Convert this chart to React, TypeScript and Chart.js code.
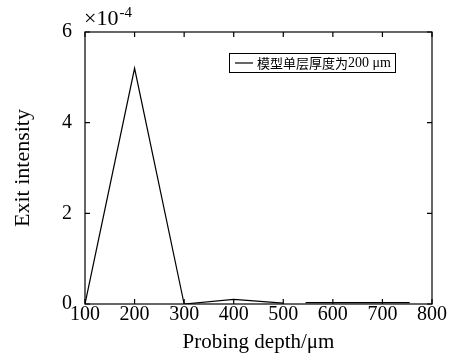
import React, { useEffect, useRef } from "react";
import { Chart, registerables } from "chart.js";

Chart.register(...registerables);

// Probing depth (μm) and exit intensity (×10^-4); null marks the gap in the curve
const depths = [100, 200, 300, 400, 500, 520, 545, 755];
const intensities = [0, 5.2, 0, 0.1, 0.02, null, 0.03, 0.03];
const seriesLabel = "模型单层厚度为200 μm";
const xTitle = "Probing depth/μm";
const yTitle = "Exit intensity";
const xTicks = [100, 200, 300, 400, 500, 600, 700, 800];
const yTicks = [0, 2, 4, 6];

const SERIF = "'Liberation Serif', 'Times New Roman', serif";

const framePlugin = {
  id: "frame",
  afterDraw(chart: any) {
    const { ctx, chartArea } = chart;
    const { left, right, top, bottom } = chartArea;
    const xs = chart.scales.x;
    const ys = chart.scales.y;
    ctx.save();
    ctx.strokeStyle = "#000";
    ctx.lineWidth = 1.2;
    ctx.strokeRect(left, top, right - left, bottom - top);
    const tl = 5;
    ctx.beginPath();
    xTicks.forEach((v) => {
      const px = xs.getPixelForValue(v);
      ctx.moveTo(px, bottom);
      ctx.lineTo(px, bottom - tl);
      ctx.moveTo(px, top);
      ctx.lineTo(px, top + tl);
    });
    yTicks.forEach((v) => {
      const py = ys.getPixelForValue(v);
      ctx.moveTo(left, py);
      ctx.lineTo(left + tl, py);
      ctx.moveTo(right, py);
      ctx.lineTo(right - tl, py);
    });
    ctx.stroke();

    // exponent label
    ctx.fillStyle = "#000";
    ctx.textBaseline = "alphabetic";
    ctx.textAlign = "left";
    ctx.font = `22px ${SERIF}`;
    ctx.fillText("×10", left - 1, top - 7);
    const w = ctx.measureText("×10").width;
    ctx.font = `15px ${SERIF}`;
    ctx.fillText("-4", left - 1 + w + 1, top - 15);

    // legend
    const lx = 229, ly = 53, lw = 166, lh = 19;
    ctx.fillStyle = "#fff";
    ctx.fillRect(lx, ly, lw, lh);
    ctx.lineWidth = 1;
    ctx.strokeRect(lx + 0.5, ly + 0.5, lw, lh);
    ctx.lineWidth = 1.2;
    ctx.beginPath();
    ctx.moveTo(lx + 6, ly + 10);
    ctx.lineTo(lx + 24, ly + 10);
    ctx.stroke();
    ctx.fillStyle = "#000";
    ctx.textBaseline = "middle";
    const label: string = chart.data.datasets[0].label;
    const cut = label.search(/[0-9]/);
    const cjk = label.slice(0, cut);
    const latin = label.slice(cut);
    ctx.font = `13px 'Noto Sans CJK SC'`;
    ctx.fillText(cjk, lx + 28, ly + 10.5);
    const cw = ctx.measureText(cjk).width;
    ctx.font = `14px ${SERIF}`;
    ctx.fillText(latin, lx + 28 + cw, ly + 10.5);
    ctx.restore();
  },
};

export default function App() {
  const ref = useRef<HTMLCanvasElement | null>(null);
  useEffect(() => {
    const canvas = ref.current;
    if (!canvas) return;
    const chart = new Chart(canvas, {
      type: "line",
      data: {
        datasets: [
          {
            label: seriesLabel,
            data: depths.map((d, i) => ({ x: d, y: intensities[i] })) as any,
            borderColor: "#000",
            borderWidth: 1.2,
            pointRadius: 0,
            tension: 0,
            spanGaps: false,
            fill: false,
          },
        ],
      },
      options: {
        animation: false,
        responsive: true,
        maintainAspectRatio: false,
        layout: { padding: { top: 32, right: 26, left: 0, bottom: 0 } },
        plugins: { legend: { display: false }, tooltip: { enabled: false } },
        scales: {
          x: {
            type: "linear",
            min: 100,
            max: 800,
            afterFit: (s: any) => {
              s.height = 56;
            },
            afterBuildTicks: (s: any) => {
              s.ticks = xTicks.map((v) => ({ value: v }));
            },
            grid: { display: false },
            border: { display: false },
            ticks: {
              padding: -9,
              color: "#000",
              font: { family: SERIF, size: 20 },
              maxRotation: 0,
              autoSkip: false,
            },
            title: {
              display: true,
              text: xTitle,
              color: "#000",
              font: { family: SERIF, size: 21 },
              padding: { top: 0, bottom: 5 },
            },
          },
          y: {
            type: "linear",
            min: 0,
            max: 6,
            afterFit: (s: any) => {
              s.width = 85;
            },
            afterBuildTicks: (s: any) => {
              s.ticks = yTicks.map((v) => ({ value: v }));
            },
            grid: { display: false },
            border: { display: false },
            ticks: {
              padding: 5,
              color: "#000",
              font: { family: SERIF, size: 20 },
            },
            title: {
              display: true,
              text: yTitle,
              color: "#000",
              font: { family: SERIF, size: 22 },
              padding: { top: 10, bottom: 0 },
            },
          },
        },
      },
      plugins: [framePlugin],
    });
    return () => chart.destroy();
  }, []);
  return (
    <div style={{ position: "absolute", left: 0, top: 0, width: 458, height: 360, background: "#fff" }}>
      <canvas ref={ref} />
    </div>
  );
}
